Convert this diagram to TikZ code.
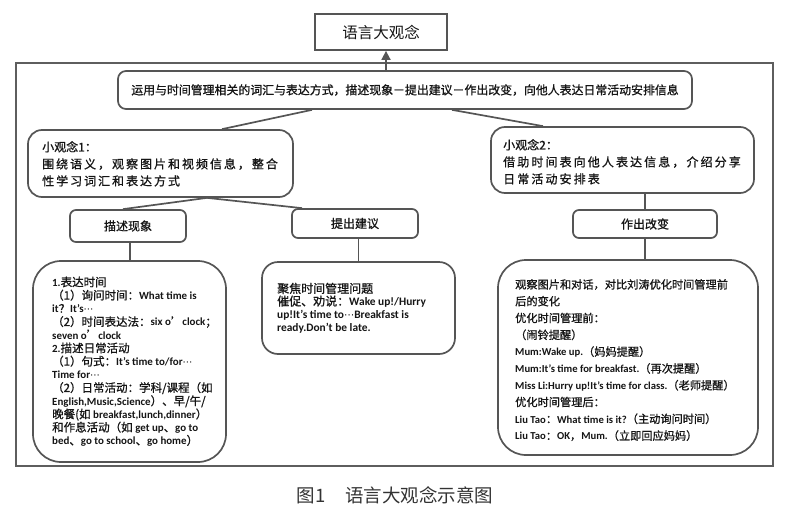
\documentclass[tikz,border=0pt]{standalone}
\usepackage{fontspec}
\usetikzlibrary{arrows.meta}
\setmainfont{Noto Sans CJK SC}[FakeBold=0.9]
\newfontfamily\regfont{Noto Sans CJK SC}
\newfontfamily\latfont{Carlito}[Scale=0.95]
\newfontfamily\dvfont{DejaVu Sans}
\newcommand\latw[1]{{\latfont\bfseries #1}}
\newcommand\dts{{\dvfont\scalebox{0.85}{⋯}}}
\definecolor{lc}{HTML}{555555}
\definecolor{oc}{HTML}{5E5E5E}
\definecolor{tc}{HTML}{151515}
\tikzset{
  rbox/.style={draw=lc, line width=1.7pt, rounded corners=#1, inner sep=0pt, fill=white},
  conn/.style={draw=lc, line width=1.7pt},
  txt/.style={inner sep=0pt, align=left, anchor=north west, text=tc},
}
\begin{document}
\begin{tikzpicture}[x=1pt,y=-1pt]
\useasboundingbox (0,0) rectangle (787,525);
% outer frame
\node[draw=oc, line width=2.5pt, minimum width=757pt, minimum height=403pt, inner sep=0pt] (outer) at (394.5,264.5) {};
% top box
\node[draw=lc, line width=1.8pt, minimum width=132pt, minimum height=36pt, inner sep=0pt, text=tc,
      font=\regfont\fontsize{15.5}{16}\selectfont] (top) at (381,32) {语言大观念};
% main statement
\node[rbox=8pt, minimum width=574pt, minimum height=38pt, text=tc, font=\fontsize{11.9}{13}\selectfont]
  (main) at (405,90) {运用与时间管理相关的词汇与表达方式，描述现象－提出建议－作出改变，向他人表达日常活动安排信息};
% sub concepts
\node[rbox=14pt, minimum width=265pt, minimum height=67pt] (c1) at (160.5,163.5) {};
\node[rbox=14pt, minimum width=263pt, minimum height=66pt] (c2) at (622.5,160) {};
\node[txt, font=\fontsize{12}{17}\selectfont] (t1) at (42,141) {小观念1：\\
{\addfontfeature{LetterSpace=16.5}围绕语义，观察图片和视频信息，整合}\\
{\addfontfeature{LetterSpace=16.5}性学习词汇和表达方式}};
\node[txt, font=\fontsize{12}{17}\selectfont] (t2) at (503,139) {小观念2：\\
{\addfontfeature{LetterSpace=17.5}借助时间表向他人表达信息，介绍分享}\\
{\addfontfeature{LetterSpace=17.5}日常活动安排表}};
% small boxes
\node[rbox=6pt, minimum width=116pt, minimum height=32pt, text=tc, font=\fontsize{12}{13}\selectfont] (d1) at (128,226) {描述现象};
\node[rbox=6pt, minimum width=126pt, minimum height=29pt, text=tc, font=\fontsize{12}{13}\selectfont] (d2) at (355,223.5) {提出建议};
\node[rbox=6pt, minimum width=144pt, minimum height=28pt, text=tc, font=\fontsize{12}{13}\selectfont] (d3) at (645,224) {作出改变};
% big boxes
\node[rbox=28pt, minimum width=193pt, minimum height=201pt] (b1) at (129.5,361.5) {};
\node[rbox=16pt, minimum width=193pt, minimum height=92pt] (b2) at (358.5,308) {};
\node[rbox=28pt, minimum width=260pt, minimum height=195pt] (b3) at (628,357.5) {};
\node[txt, font=\fontsize{11.5}{13.2}\selectfont] (tb1) at (52,276.5) {\latw{1.}表达时间\\
（1）询问时间：\latw{What time is}\\
\latw{it}？\latw{It’s}\dts\\
（2）时间表达法：\latw{six o}’\latw{clock}；\\
\latw{seven o}’\latw{clock}\\
\latw{2.}描述日常活动\\
（1）句式：\latw{It’s time to/for}\dts\\
\latw{Time for}\dts\\
（2）日常活动：学科/课程（如\\
\latw{English,Music,Science}）、早/午/\\
晚餐(如 \latw{breakfast,lunch,dinner}）\\
和作息活动（如 \latw{get up}、\latw{go to}\\
\latw{bed}、\latw{go to school}、\latw{go home}）};
\node[txt, font=\fontsize{12}{12.7}\selectfont] (tb2) at (277,282.6) {聚焦时间管理问题\\
催促、劝说：\latw{Wake up!/Hurry}\\
\latw{up!It’s time to}\dts\latw{Breakfast is}\\
\latw{ready.Don’t be late.}};
\node[txt, font=\fontsize{11.2}{16.8}\selectfont] (tb3) at (515,279) {观察图片和对话，对比刘涛优化时间管理前\\
后的变化\\
优化时间管理前：\\
（闹铃提醒）\\
\latw{Mum:Wake up.}（妈妈提醒）\\
\latw{Mum:It’s time for breakfast.}（再次提醒）\\
\latw{Miss Li:Hurry up!It’s time for class.}（老师提醒）\\
优化时间管理后：\\
\latw{Liu Tao}：\latw{What time is it?}（主动询问时间）\\
\latw{Liu Tao}：\latw{OK}，\latw{Mum.}（立即回应妈妈）};
% connectors
\draw[conn, -{Triangle[width=9pt,length=9pt]}] ([xshift=5pt]top.south |- main.north) -- ([xshift=5pt]top.south);
\draw[conn] ([xshift=-93pt]main.south) -- ([xshift=61.5pt]c1.north);
\draw[conn] ([xshift=47pt]main.south) -- ([xshift=-79.5pt]c2.north);
\draw[conn] ([xshift=46.5pt]c1.south) -- ([xshift=-5pt]d1.north);
\draw[conn] ([xshift=46.5pt]c1.south) -- ([xshift=-53pt]d2.north);
\draw[conn] ([xshift=22.5pt]c2.south) -- (d3.north);
\draw[conn] ([xshift=2pt]d1.south) -- ([xshift=2pt]d1.south |- b1.north);
\draw[conn] (b2.north |- d2.south) -- (b2.north);
\draw[conn] (d3.south) -- (d3.south |- b3.north);
% caption
\node[text=black!80, font=\regfont\fontsize{18.5}{20}\selectfont, inner sep=0pt] (cap) at (395,495) {图1\hspace{20pt}语言大观念示意图};
\end{tikzpicture}
\end{document}
